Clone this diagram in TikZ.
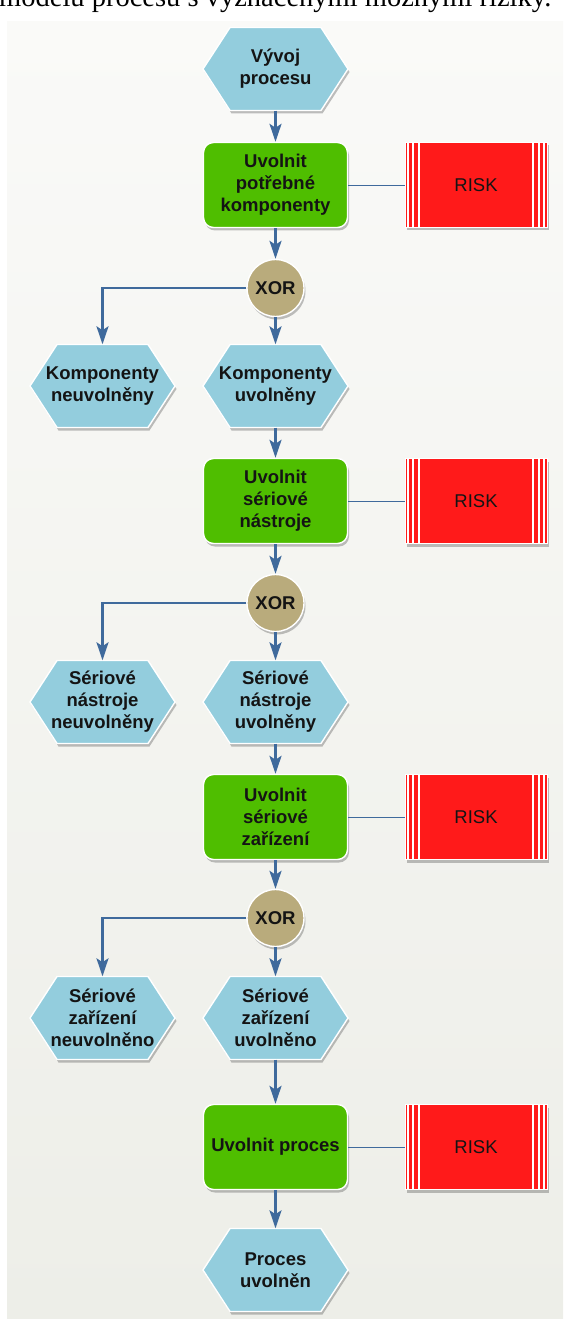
\documentclass[tikz,border=0pt]{standalone}
\usepackage{fontspec}
\setmainfont{Liberation Serif}
\newfontfamily\dsans{Liberation Sans}
\usetikzlibrary{shadows,arrows.meta,calc}
\definecolor{evblue}{HTML}{93CDDD}
\definecolor{fngreen}{HTML}{4FBE00}
\definecolor{riskred}{HTML}{FF1A1A}
\definecolor{xorc}{HTML}{B9AB7C}
\definecolor{lineblue}{HTML}{3F6A9C}
\definecolor{txt}{HTML}{141414}
\definecolor{bgtop}{HTML}{FAFAF8}
\definecolor{bgbot}{HTML}{EDEEE8}
\tikzset{
  myshadow/.style={drop shadow={shadow xshift=1.5pt,shadow yshift=-3pt,opacity=0.35,fill=black!70}},
  evshape/.style={fill=evblue,draw=white,line width=1.4pt,myshadow},
  evt/.style={minimum width=145pt,minimum height=83pt,inner sep=0pt,align=center,
    font=\dsans\bfseries\fontsize{18.5}{22}\selectfont,text=txt},
  fn/.style={rectangle,rounded corners=10pt,fill=fngreen,draw=white,line width=1.4pt,
    minimum width=144pt,minimum height=85pt,inner sep=0pt,align=center,
    font=\dsans\bfseries\fontsize{18.5}{22}\selectfont,text=txt,myshadow},
  risk/.style={rectangle,fill=riskred,draw=white,line width=0.8pt,
    minimum width=142pt,minimum height=85pt,inner sep=0pt,
    font=\dsans\fontsize{18.5}{22}\selectfont,text=txt,myshadow,
    path picture={\foreach \d in {3,8,14}{
      \draw[white,line width=1.3pt] ($(path picture bounding box.north west)+(\d,0)$) -- ($(path picture bounding box.south west)+(\d,0)$);
      \draw[white,line width=1.3pt] ($(path picture bounding box.north east)+(-\d,0)$) -- ($(path picture bounding box.south east)+(-\d,0)$);}}},
  xorn/.style={circle,fill=xorc,draw=white,line width=1.4pt,minimum size=57pt,inner sep=0pt,
    font=\dsans\bfseries\fontsize{18.5}{22}\selectfont,text=txt,myshadow},
  arr/.style={draw=lineblue,line width=2.6pt,-{Stealth[length=18pt,width=12pt,inset=4pt]}},
  rl/.style={draw=lineblue,line width=0.9pt},
}
\newcommand\evnode[4]{%
  \path[evshape] (#2-72.5,#3) -- (#2-45.5,#3-41.5) -- (#2+45.5,#3-41.5) -- (#2+72.5,#3)
     -- (#2+45.5,#3+41.5) -- (#2-45.5,#3+41.5) -- cycle;
  \node[evt] (#1) at (#2,#3) {#4};}
\begin{document}
\begin{tikzpicture}[x=1pt,y=-1pt]
\useasboundingbox (0,0) rectangle (563,1324);
\fill[white] (0,0) rectangle (563,1324);
\shade[top color=bgtop,bottom color=bgbot] (7,22) rectangle (563,1318);
\node[anchor=base west,inner sep=0pt,font=\fontsize{28.5}{30}\selectfont] (title) at (-1,6.5) {modelu procesu s vyznačenými možnými riziky.};

\evnode{h1}{275.5}{69}{Vývoj\\procesu}
\node[fn] (g1) at (275.5,185) {Uvolnit\\potřebné\\komponenty};
\node[risk] (r1) at (476,185) {RISK};
\node[xorn] (x1) at (275.5,288) {XOR};
\evnode{hl1}{102.5}{386}{Komponenty\\neuvolněny}
\evnode{hr1}{275.5}{386}{Komponenty\\uvolněny}

\node[fn] (g2) at (275.5,501) {Uvolnit\\sériové\\nástroje};
\node[risk] (r2) at (476,501) {RISK};
\node[xorn] (x2) at (275.5,603) {XOR};
\evnode{hl2}{102.5}{702}{Sériové\\nástroje\\neuvolněny}
\evnode{hr2}{275.5}{702}{Sériové\\nástroje\\uvolněny}

\node[fn] (g3) at (275.5,817) {Uvolnit\\sériové\\zařízení};
\node[risk] (r3) at (476,817) {RISK};
\node[xorn] (x3) at (275.5,918) {XOR};
\evnode{hl3}{102.5}{1018}{Sériové\\zařízení\\neuvolněno}
\evnode{hr3}{275.5}{1018}{Sériové\\zařízení\\uvolněno}

\node[fn] (g4) at (275.5,1147) {Uvolnit proces};
\node[risk] (r4) at (476,1147) {RISK};
\evnode{hf}{275.5}{1270}{Proces\\uvolněn}

\draw[arr] (h1.south) -- (g1.north);
\draw[rl] (g1.east) -- (r1.west);
\draw[arr] (g1.south) -- (x1.north);
\draw[arr] (x1.west) -| (hl1.north);
\draw[arr] (x1.south) -- (hr1.north);
\draw[arr] (hr1.south) -- (g2.north);
\draw[rl] (g2.east) -- (r2.west);
\draw[arr] (g2.south) -- (x2.north);
\draw[arr] (x2.west) -| (hl2.north);
\draw[arr] (x2.south) -- (hr2.north);
\draw[arr] (hr2.south) -- (g3.north);
\draw[rl] (g3.east) -- (r3.west);
\draw[arr] (g3.south) -- (x3.north);
\draw[arr] (x3.west) -| (hl3.north);
\draw[arr] (x3.south) -- (hr3.north);
\draw[arr] (hr3.south) -- (g4.north);
\draw[rl] (g4.east) -- (r4.west);
\draw[arr] (g4.south) -- (hf.north);
\end{tikzpicture}
\end{document}
